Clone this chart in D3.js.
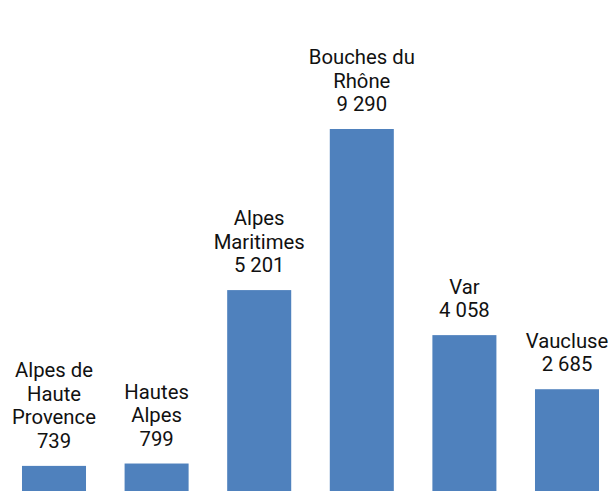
<!DOCTYPE html>
<html>
<head>
<meta charset="utf-8">
<script src="https://cdn.jsdelivr.net/npm/d3@7/dist/d3.min.js"></script>
<style>
  html, body { margin: 0; padding: 0; background: #fff; }
  svg { display: block; }
  .lbl { font-family: Roboto, "Open Sans", sans-serif; font-size: 20.3px; fill: #111; }
</style>
</head>
<body>
<svg id="chart" width="611" height="491"></svg>
<script>
// data
const departements = [
  ["Alpes de", "Haute", "Provence"],
  ["Hautes", "Alpes"],
  ["Alpes", "Maritimes"],
  ["Bouches du", "Rhône"],
  ["Var"],
  ["Vaucluse"]
];
const valeurs = [739, 799, 5201, 9290, 4058, 2685];
const valeursTxt = ["739", "799", "5 201", "9 290", "4 058", "2 685"];

// definicion
const width = 611;
const height = 491;
const lineH = 23.5;

const svg = d3.select('#chart');

const x = d3.scaleBand()
  .domain(d3.range(valeurs.length))
  .range([2.7, 618.3])
  .paddingInner(0.376)
  .paddingOuter(0.188);

const y = d3.scaleLinear()
  .domain([0, 9290])
  .range([495, 129]);

const data = valeurs.map((v, i) => ({ i, v, name: departements[i], txt: valeursTxt[i] }));

// bars
svg.append('g')
  .selectAll('rect')
  .data(data)
  .join('rect')
  .attr('x', d => x(d.i))
  .attr('y', d => y(d.v))
  .attr('width', x.bandwidth())
  .attr('height', d => y(0) - y(d.v))
  .attr('fill', '#4f81bd');

// labels
const lbl = svg.append('g')
  .selectAll('text')
  .data(data)
  .join('text')
  .attr('class', 'lbl')
  .attr('text-anchor', 'middle')
  .attr('x', d => x(d.i) + x.bandwidth() / 2)
  .attr('y', d => y(d.v) - 18 - d.name.length * lineH);

lbl.selectAll('tspan')
  .data(d => d.name.concat([d.txt]).map(t => ({ t, cx: x(d.i) + x.bandwidth() / 2 })))
  .join('tspan')
  .attr('x', d => d.cx)
  .attr('dy', (d, k) => k === 0 ? 0 : lineH)
  .text(d => d.t);
</script>
</body>
</html>
